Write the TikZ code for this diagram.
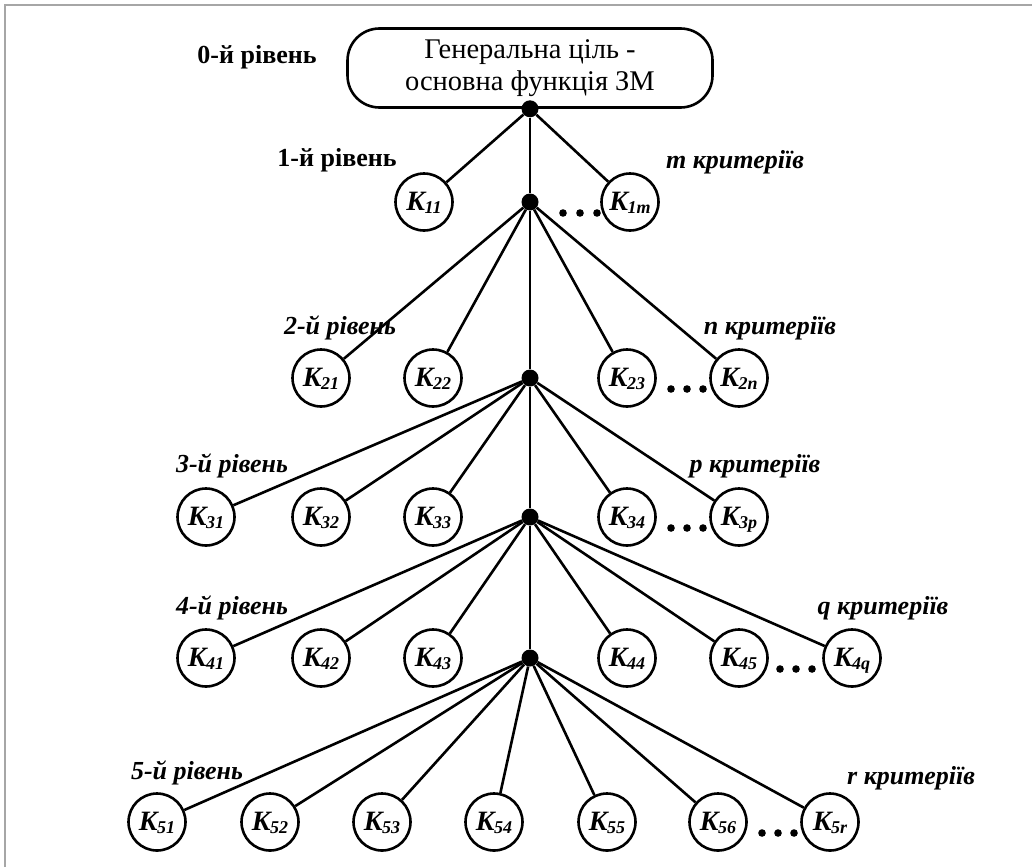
\documentclass[tikz,border=0pt]{standalone}
\usepackage{fontspec}
\setmainfont{Liberation Serif}
\usetikzlibrary{calc}
\newcommand{\Kc}[1]{K\kern-0.5pt\raisebox{-3pt}{\fontsize{18}{18}\selectfont #1}}

\begin{document}
\begin{tikzpicture}[x=1pt, y=-1pt,
	crit/.style={draw, circle, line width=2.6pt, minimum size=57pt, inner sep=0pt,
		text height=19pt, text depth=3pt,
		font=\fontsize{28}{30}\selectfont\bfseries\itshape},
	hub/.style={circle, fill=black, minimum size=17pt, inner sep=0pt},
	lvl/.style={font=\fontsize{26}{28}\selectfont\bfseries\itshape},
	lvlup/.style={font=\fontsize{26}{28}\selectfont\bfseries},
	edge/.style={line width=2.6pt}]
		%%%%% START %%%%%
		\useasboundingbox (0, 0) rectangle (1032, 867);
		\draw[gray!70, line width=2.5pt] (5, 867) -- (5, 5) -- (1032, 5);
		
		\node[draw, line width=2.6pt, rounded corners=32pt, minimum width=365pt, minimum height=79pt,
			align=center, font=\fontsize{28.5}{32}\selectfont] (root) at (530, 68)
			{Генеральна ціль -\\основна функція ЗМ};
		\node[hub] (d0) at (root.south) {};
		\node[hub] (d1) at (530, 202) {};
		\node[hub] (d2) at (530, 378) {};
		\node[hub] (d3) at (530, 517) {};
		\node[hub] (d4) at (530, 658) {};
		\draw[edge] (d0) -- (d1) -- (d2) -- (d3) -- (d4);
		
		% levels
		\node[lvlup] (l0) at (257, 57) {0-й рівень};
		\node[lvlup] (l1) at (337, 160) {1-й рівень};
		\node[lvl] (m1) at (735, 162) {m критеріїв};
		\node[lvl] (l2) at (340, 328) {2-й рівень};
		\node[lvl] (m2) at (770, 328) {n критеріїв};
		\node[lvl] (l3) at (232, 466) {3-й рівень};
		\node[lvl] (m3) at (755, 466) {p критеріїв};
		\node[lvl] (l4) at (232, 608) {4-й рівень};
		\node[lvl] (m4) at (883, 608) {q критеріїв};
		\node[lvl] (l5) at (187, 773) {5-й рівень};
		\node[lvl] (m5) at (911, 778) {r критеріїв};
		
		% criteria
		\node[crit] (K11) at (424, 202) {\Kc{11}};
		\node[crit] (K1m) at (630, 202) {\Kc{1m}};
		
		\node[crit] (K21) at (321, 378) {\Kc{21}};
		\node[crit] (K22) at (433, 378) {\Kc{22}};
		\node[crit] (K23) at (627, 378) {\Kc{23}};
		\node[crit] (K2n) at (739, 378) {\Kc{2n}};
		
		\node[crit] (K31) at (206, 517) {\Kc{31}};
		\node[crit] (K32) at (321, 517) {\Kc{32}};
		\node[crit] (K33) at (433, 517) {\Kc{33}};
		\node[crit] (K34) at (627, 517) {\Kc{34}};
		\node[crit] (K3p) at (739, 517) {\Kc{3p}};
		
		\node[crit] (K41) at (206, 658) {\Kc{41}};
		\node[crit] (K42) at (321, 658) {\Kc{42}};
		\node[crit] (K43) at (433, 658) {\Kc{43}};
		\node[crit] (K44) at (627, 658) {\Kc{44}};
		\node[crit] (K45) at (739, 658) {\Kc{45}};
		\node[crit] (K4q) at (852, 658) {\Kc{4q}};
		
		\node[crit] (K51) at (157, 822) {\Kc{51}};
		\node[crit] (K52) at (270, 822) {\Kc{52}};
		\node[crit] (K53) at (382, 822) {\Kc{53}};
		\node[crit] (K54) at (494, 822) {\Kc{54}};
		\node[crit] (K55) at (607, 822) {\Kc{55}};
		\node[crit] (K56) at (718, 822) {\Kc{56}};
		\node[crit] (K5r) at (830, 822) {\Kc{5r}};
		
		% connectors
		\foreach \k in {11,1m} \draw[edge] (d0) -- (K\k);
		\foreach \k in {21,22,23,2n} \draw[edge] (d1) -- (K\k);
		\foreach \k in {31,32,33,34,3p} \draw[edge] (d2) -- (K\k);
		\foreach \k in {41,42,43,44,45,4q} \draw[edge] (d3) -- (K\k);
		\foreach \k in {51,52,53,54,55,56,5r} \draw[edge] (d4) -- (K\k);
		
		% ellipses
		\foreach \x/\y in {563/213, 580/213, 597/213,
				671/389, 687/389, 703/389,
				671/528, 687/528, 703/528,
				780/669, 796/669, 812/669,
				762/833, 778/833, 794/833}
			\fill (\x, \y) circle (3.8);
		%%%%% END %%%%%
\end{tikzpicture}
\end{document}
